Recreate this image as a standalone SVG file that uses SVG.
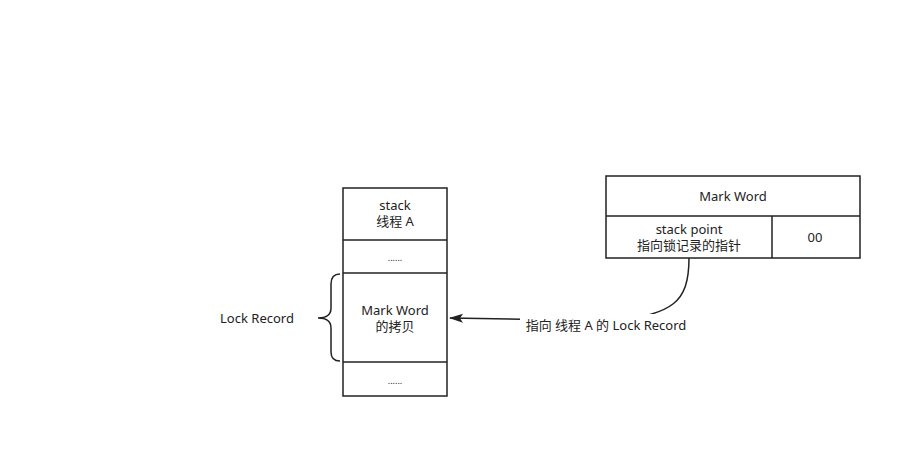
<svg xmlns="http://www.w3.org/2000/svg" width="922" height="458" viewBox="0 0 922 458">
<defs>
<style>
text{font-family:"Noto Sans","Noto Sans CJK SC",sans-serif;font-size:13px;fill:#222;text-anchor:middle}
.box{fill:#fff;stroke:#222;stroke-width:1.5}
.ln{fill:none;stroke:#222;stroke-width:1.5}
</style>
<marker id="arr" markerWidth="14" markerHeight="10" refX="13" refY="5" orient="auto" markerUnits="userSpaceOnUse">
<path d="M0,0.5 L14,5 L0,9.5 L3,5 Z" fill="#222"/>
</marker>
</defs>
<rect width="922" height="458" fill="#fff"/>
<g id="connectors">
<path class="ln" d="M689,258 C689,305 670,312 620,321 L450,318" marker-end="url(#arr)"/>
<rect x="520" y="314" width="172" height="20" fill="#fff"/>
<text x="606" y="330">指向 线程 A 的 Lock Record</text>
</g>
<g id="stack">
<rect class="box" x="343" y="188" width="104" height="208"/>
<line class="ln" x1="343" y1="240" x2="447" y2="240"/>
<line class="ln" x1="343" y1="273" x2="447" y2="273"/>
<line class="ln" x1="343" y1="362" x2="447" y2="362"/>
<text x="395" y="210">stack</text>
<text x="395" y="226">线程 A</text>
<text x="395" y="261" style="font-size:9px">......</text>
<text x="395" y="315">Mark Word</text>
<text x="395" y="331">的拷贝</text>
<text x="395" y="384" style="font-size:9px">......</text>
</g>
<g id="lockrecord">
<path class="ln" d="M340,274 Q331,274 331,284 L331,308 Q331,318 318,318 Q331,318 331,328 L331,352 Q331,361 340,361"/>
<text x="257" y="323">Lock Record</text>
</g>
<g id="markword">
<rect class="box" x="606" y="176" width="254" height="82"/>
<line class="ln" x1="606" y1="216" x2="860" y2="216"/>
<line class="ln" x1="772" y1="216" x2="772" y2="258"/>
<text x="733" y="201">Mark Word</text>
<text x="689" y="234">stack point</text>
<text x="689" y="250">指向锁记录的指针</text>
<text x="815" y="242">00</text>
</g>
</svg>
